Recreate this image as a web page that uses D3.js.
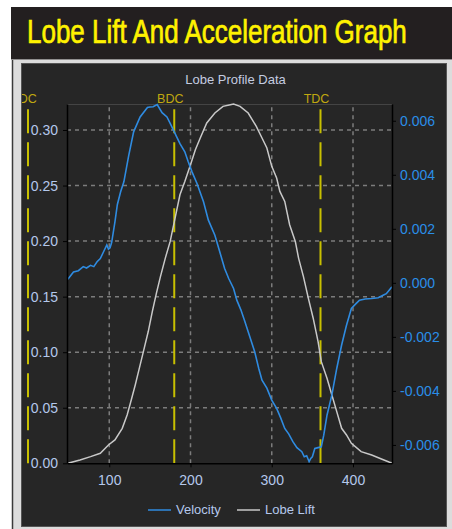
<!DOCTYPE html>
<html><head><meta charset="utf-8">
<script src="https://cdn.jsdelivr.net/npm/d3@7"></script>
<style>
html,body{margin:0;padding:0;background:#fff;}
svg{display:block;font-family:"Liberation Sans",Arial,sans-serif;}
</style></head>
<body>
<svg id="c" width="452" height="529"></svg>
<script>
// ---------- data ----------
const chartTitle = "Lobe Lift And Acceleration Graph";
const plotTitle = "Lobe Profile Data";
const seriesNames = ["Velocity", "Lobe Lift"];

const liftAngle = [49,64,77,89,99,107,116,122,126,132,136,142,148,153,158,163,169,175,181,187,193,200,206,212,220,230,240,249,253,261,271,281,288,294,300,306,310,316,322,329,333,339,345,351,357,361,368,374,380,386,392,398,410,423,435,445,448];
const liftValue = [0,0.003,0.006,0.009,0.0165,0.021,0.0315,0.0435,0.054,0.0705,0.0825,0.1005,0.1186,0.1366,0.153,0.168,0.1847,0.1997,0.2207,0.2417,0.2537,0.2688,0.2823,0.2928,0.3063,0.3153,0.3213,0.3228,0.3234,0.3213,0.3153,0.3033,0.2928,0.2838,0.2673,0.2568,0.2447,0.2357,0.2147,0.1997,0.1847,0.168,0.1487,0.1306,0.1096,0.0915,0.0766,0.0615,0.0465,0.0315,0.0255,0.018,0.0105,0.0075,0.0039,0.0009,0.0005];

const velAngle = [49,56,62,68,72,77,81,85,89,93,97,99,101,103,107,110,114,118,124,130,138,147,150,154,159,165,171,175,179,183,187,193,197,202,208,216,222,230,236,242,247,253,257,262,267,273,279,284,288,294,300,306,311,316,321,326,331,337,340,343,346,348,350,353,357,361,364,368,374,380,386,392,398,404,408,415,423,431,437,441,446,448];
const velValue = [0.00013,0.0004,0.00045,0.0006,0.00055,0.00065,0.0006,0.00078,0.0009,0.00115,0.0014,0.00125,0.0013,0.0015,0.00226,0.0029,0.00337,0.00374,0.00472,0.00559,0.00614,0.00649,0.00651,0.00652,0.0066,0.0063,0.00614,0.0059,0.00565,0.0054,0.00515,0.00485,0.0045,0.0041,0.00368,0.003,0.00232,0.00176,0.00115,0.00053,0.00016,-0.00021,-0.00064,-0.001,-0.00144,-0.002,-0.00255,-0.00317,-0.0036,-0.0039,-0.00434,-0.00465,-0.005,-0.00539,-0.0056,-0.00588,-0.0061,-0.00625,-0.00644,-0.0064,-0.00662,-0.0065,-0.00644,-0.00613,-0.0061,-0.00607,-0.00564,-0.0049,-0.00415,-0.00317,-0.0023,-0.00157,-0.00095,-0.00076,-0.00064,-0.0006,-0.00058,-0.00055,-0.00046,-0.0004,-0.00022,-0.00015];

const xTicks = [100,200,300,400];
const leftTicks = [0,0.05,0.10,0.15,0.20,0.25,0.30];
const rightTicks = [-0.006,-0.004,-0.002,0,0.002,0.004,0.006];
const markerAngle = [0,180,360];
const markerLabel = ["TDC","BDC","TDC"];

// ---------- layout ----------
const svg = d3.select("#c");
const L = 67, R = 392, T = 104, B = 463.3;
const x = d3.scaleLinear().domain([48,448]).range([L,R]);
const yL = d3.scaleLinear().domain([0,0.3234]).range([B,T]);
const yR = d3.scaleLinear().domain([-0.00668,0.00662]).range([B,T]);

// title bar
svg.append("rect").attr("x",11).attr("y",7).attr("width",441).attr("height",52.5).attr("fill","#231f20");
const tt = svg.append("text").attr("x",0).attr("y",0).attr("fill","#fff200")
  .attr("stroke","#fff200").attr("stroke-width",0.7)
  .attr("font-size",33)
  .style("font-family","'Liberation Sans',Arial,sans-serif")
  .text(chartTitle);
const tLen = tt.node().getComputedTextLength();
tt.attr("transform",`translate(27,43) scale(${380/tLen},1)`);

// frame + panel
svg.append("rect").attr("x",12).attr("y",60).attr("width",440).attr("height",469).attr("fill","#dcdcdc");
svg.append("line").attr("x1",12.5).attr("x2",12.5).attr("y1",60).attr("y2",529).attr("stroke","#3a3a3a").attr("stroke-width",1.5);
svg.append("rect").attr("x",21.5).attr("y",63.5).attr("width",425).attr("height",463).attr("fill","#262626").attr("stroke","#555");
svg.append("clipPath").attr("id","panelClip").append("rect").attr("x",22).attr("y",64).attr("width",424).attr("height",462);

const g = svg.append("g").attr("clip-path","url(#panelClip)");
// plot title
g.append("text").attr("x",235.5).attr("y",84).attr("text-anchor","middle").attr("font-size",13).attr("fill","#c4cce0").text(plotTitle);

// plot border top
g.append("line").attr("x1",L).attr("x2",R).attr("y1",T+0.5).attr("y2",T+0.5).attr("stroke","#444");

// grid
const grid = g.append("g").attr("stroke","#7c7c7c").attr("stroke-width",1.5).attr("stroke-dasharray","4,4");
grid.selectAll(".gv").data(xTicks).join("line").attr("x1",d=>x(d)).attr("x2",d=>x(d)).attr("y1",B).attr("y2",T);
grid.selectAll(".gh").data(leftTicks.filter(d=>d>0)).join("line").attr("x1",L).attr("x2",R).attr("y1",d=>yL(d)).attr("y2",d=>yL(d));

// marker lines
const mk = g.append("g");
mk.selectAll("line").data(markerAngle).join("line")
  .attr("x1",d=>x(d)).attr("x2",d=>x(d)).attr("y1",B).attr("y2",T+3)
  .attr("stroke","#c8c000").attr("stroke-width",2).attr("stroke-dasharray","24,9");
mk.selectAll("text").data(markerAngle).join("text")
  .attr("x",d=>x(d)-4).attr("y",102.5).attr("text-anchor","middle").attr("font-size",12.5)
  .attr("fill","#c0a810").text((d,i)=>markerLabel[i]);

// series
svg.append("clipPath").attr("id","pc").append("rect").attr("x",L).attr("y",T-2).attr("width",R-L).attr("height",B-T+3);
const lineLift = d3.line().x((d,i)=>x(liftAngle[i])).y(d=>yL(d));
const lineVel = d3.line().x((d,i)=>x(velAngle[i])).y(d=>yR(d));
const sg = g.append("g").attr("clip-path","url(#pc)");
sg.append("path").attr("d",lineLift(liftValue)).attr("fill","none").attr("stroke","#c8c8c8").attr("stroke-width",1.5);
sg.append("path").attr("d",lineVel(velValue)).attr("fill","none").attr("stroke","#2f8be0").attr("stroke-width",1.6);

// axes
const axFont = 14;
const ax1 = g.append("g").attr("transform",`translate(${L},0)`)
  .call(d3.axisLeft(yL).tickValues(leftTicks).tickFormat(d=>d.toFixed(2)).tickSizeInner(4).tickSizeOuter(0).tickPadding(5));
const ax2 = g.append("g").attr("transform",`translate(${R},0)`)
  .call(d3.axisRight(yR).tickValues(rightTicks).tickFormat(d=>d.toFixed(3)).tickSizeInner(4).tickSizeOuter(0).tickPadding(4));
const ax3 = g.append("g").attr("transform",`translate(0,${B})`)
  .call(d3.axisBottom(x).tickValues(xTicks).tickFormat(d=>d).tickSizeInner(4).tickSizeOuter(0).tickPadding(7.4));
[ax1,ax2,ax3].forEach(a=>{
  a.select(".domain").attr("stroke","#000").attr("stroke-width",1.5);
  a.selectAll(".tick line").attr("stroke","#000");
  a.selectAll("text").attr("font-size",axFont).style("font-family","'Liberation Sans',Arial,sans-serif");
});
ax1.selectAll("text").attr("fill","#b4c8ec");
ax3.selectAll("text").attr("fill","#b4c8ec");
ax2.selectAll("text").attr("fill","#2a8ee8");

// legend
const legColors = ["#2f8be0","#c8c8c8"];
const legX = [148,237];
const lg = g.append("g");
seriesNames.forEach((n,i)=>{
  lg.append("line").attr("x1",legX[i]).attr("x2",legX[i]+23).attr("y1",510).attr("y2",510).attr("stroke",legColors[i]).attr("stroke-width",1.5);
  lg.append("text").attr("x",legX[i]+28).attr("y",514).attr("font-size",13).attr("fill","#b4c8ec").text(n);
});
</script>
</body></html>
